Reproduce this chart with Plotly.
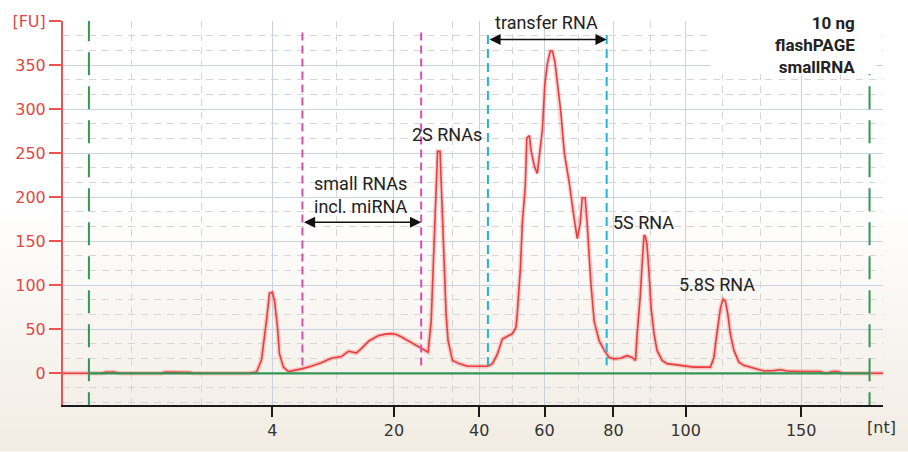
import plotly.graph_objects as go

# Electropherogram trace: migration time (s) vs fluorescence (FU)
time_s = [
    18.00, 20.37, 20.62, 21.10, 21.47, 24.02, 24.20, 25.24, 25.73, 25.97,
    29.31, 29.80, 30.10, 30.41, 30.59, 30.77, 30.90, 31.08, 31.20, 31.44,
    31.75, 32.54, 33.15, 33.75, 34.36, 34.97, 35.40, 35.70, 35.88, 36.19,
    36.67, 37.22, 37.65, 38.01, 38.32, 38.62, 39.23, 39.84, 40.14, 40.26,
    40.45, 40.57, 40.69, 40.84, 40.99, 41.05, 41.18, 41.24, 41.36, 41.48,
    41.75, 42.15, 42.67, 43.88, 44.19, 44.49, 44.79, 45.10, 45.40, 45.62,
    45.71, 45.89, 46.01, 46.19, 46.28, 46.44, 46.53, 46.74, 46.92, 47.04,
    47.23, 47.38, 47.53, 47.71, 47.84, 47.99, 48.14, 48.35, 48.57, 48.87,
    49.17, 49.36, 49.54, 49.66, 49.84, 49.96, 50.18, 50.39, 50.69, 51.00,
    51.30, 51.61, 52.00, 52.40, 52.70, 52.91, 53.01, 53.19, 53.31, 53.43,
    53.52, 53.61, 53.74, 53.86, 54.04, 54.22, 54.53, 54.83, 55.65, 56.44,
    57.48, 57.69, 57.87, 58.09, 58.24, 58.39, 58.54, 58.69, 58.91, 59.21,
    59.51, 60.12, 60.73, 61.34, 61.73, 62.13, 62.95, 64.17, 64.53, 64.96,
    65.26, 65.51, 68.00,
]
fluor = [
    0, 0, 1.5, 1.5, 0, 0, 1.5, 1.5, 1, 0,
    0, 1.5, 15, 60, 91, 92, 82, 52, 22, 7,
    2, 5, 8, 12, 17, 19, 25, 24, 23, 28,
    37, 42.6, 44.5, 45, 44, 41.5, 35, 28, 25, 24,
    59, 119, 190, 252, 252, 224, 164, 115, 67, 37,
    14.6, 11, 8, 8, 11, 22, 39, 42, 45, 52,
    70, 119, 171, 213, 267, 270, 254, 235, 227, 246,
    276, 328, 351, 366, 366, 354, 328, 298, 250, 216,
    175, 153, 171, 199, 199, 171, 104, 59, 37, 26,
    18, 16.4, 17, 20, 18, 14.6, 45, 85, 123, 157,
    155, 146, 112, 74, 45, 26, 14.6, 11, 9, 7,
    7, 18, 45, 74, 84, 82, 67, 45, 26, 12.7,
    9, 5.6, 2.6, 3, 4, 2.6, 2, 2, 0, 2,
    2, 0, 0,
]

# Ladder sizes (nt) and the migration times they correspond to
ladder_nt = ["4", "20", "40", "60", "80", "100", "150"]
ladder_time = [30.77, 38.18, 43.38, 47.36, 51.56, 55.97, 63.01]
minor_time = [22.20, 26.45, 34.67, 41.78, 45.43, 49.45, 53.83, 58.21, 60.52, 65.38]

fu_ticks = [0, 50, 100, 150, 200, 250, 300, 350, 400]
fu_labels = ["0", "50", "100", "150", "200", "250", "300", "350", "[FU]"]

# Lower / upper alignment markers and size windows
marker_time = [19.58, 67.18]
small_rna_window = [32.60, 39.84]
trna_window = [43.91, 51.15]

# Peak annotations
peak_labels = ["2S RNAs", "5S RNA", "5.8S RNA"]
peak_label_time = [41.40, 53.40, 57.90]
peak_label_fu = [271, 171, 101]

X_RANGE = [18, 68]
Y_RANGE = [-36, 400]
W, H = 908, 452
M = dict(l=61, r=25, t=16, b=47)

RED = "rgb(232,62,62)"
GREEN = "rgb(52,150,86)"
MAGENTA = "rgb(214,78,176)"
CYAN = "rgb(28,182,218)"
TXT = "#222222"

fig = go.Figure()

# soft halo under the trace
fig.add_trace(go.Scatter(x=time_s, y=fluor, mode="lines",
                         line=dict(color="rgba(240,90,90,0.28)", width=4.5),
                         hoverinfo="skip", showlegend=False))
fig.add_trace(go.Scatter(x=time_s, y=fluor, mode="lines",
                         line=dict(color=RED, width=1.6),
                         showlegend=False))

shapes = []

# warm vertical gradient behind the chart
plot_h = H - M["t"] - M["b"]
def py_to_paper(py):
    return (H - M["b"] - py) / plot_h

top_px, bot_px = 200, H
n_bands = 42
c_end = (242, 236, 227)
for i in range(n_bands):
    p0 = top_px + (bot_px - top_px) * i / n_bands
    p1 = top_px + (bot_px - top_px) * (i + 1) / n_bands
    f = (i + 0.5) / n_bands
    col = tuple(round(255 + (c - 255) * f) for c in c_end)
    shapes.append(dict(type="rect", xref="paper", yref="paper",
                       x0=-0.1, x1=1.1, y0=py_to_paper(p1), y1=py_to_paper(p0) + 0.002,
                       fillcolor="rgb(%d,%d,%d)" % col, line=dict(width=0),
                       layer="below"))

# green baseline between the markers
shapes.append(dict(type="line", xref="x", yref="y",
                   x0=marker_time[0], x1=marker_time[1], y0=0, y1=0,
                   line=dict(color=GREEN, width=2.2)))
# marker lines
for t in marker_time:
    shapes.append(dict(type="line", xref="x", yref="y",
                       x0=t, x1=t, y0=Y_RANGE[1] + 3, y1=Y_RANGE[0],
                       line=dict(color=GREEN, width=2, dash="23px,11px")))
# small RNA window
for t in small_rna_window:
    shapes.append(dict(type="line", xref="x", yref="y",
                       x0=t, x1=t, y0=387, y1=5,
                       line=dict(color=MAGENTA, width=2, dash="8px,5px")))
# tRNA window
for t in trna_window:
    shapes.append(dict(type="line", xref="x", yref="y",
                       x0=t, x1=t, y0=384, y1=9,
                       line=dict(color=CYAN, width=2, dash="9px,5px")))

# white box behind the sample description
shapes.append(dict(type="rect", xref="x", yref="paper",
                   x0=57.50, x1=67.60, y0=py_to_paper(70), y1=1.1,
                   fillcolor="white", line=dict(width=0), layer="above"))

annotations = []
label_font = dict(family="Roboto", size=18, color=TXT)

# double-headed range arrows
for win, fu in ((small_rna_window, 171.5), (trna_window, 379)):
    annotations.append(dict(x=win[1], y=fu, ax=win[0], ay=fu,
                            xref="x", yref="y", axref="x", ayref="y",
                            text="", showarrow=True, arrowside="end+start",
                            arrowhead=2, arrowsize=1.4, arrowwidth=1.6,
                            arrowcolor="#111111", standoff=0, startstandoff=0))

annotations.append(dict(x=36.19, y=202, xref="x", yref="y",
                        text="small RNAs<br>incl. miRNA", showarrow=False,
                        font=label_font, align="center"))
annotations.append(dict(x=47.50, y=398, xref="x", yref="y",
                        text="transfer RNA", showarrow=False, font=label_font))
for lab, t, fu in zip(peak_labels, peak_label_time, peak_label_fu):
    annotations.append(dict(x=t, y=fu, xref="x", yref="y", text=lab,
                            showarrow=False, font=label_font))

annotations.append(dict(x=66.40, y=373, xref="x", yref="y",
                        text="<b>10 ng</b><br><b>flashPAGE</b><br><b>smallRNA</b>",
                        showarrow=False, xanchor="right", yanchor="middle",
                        align="right",
                        font=dict(family="Roboto", size=17, color=TXT)))

# x-axis unit label
annotations.append(dict(x=1.0, xref="paper", y=py_to_paper(428), yref="paper",
                        text="[nt]", showarrow=False, xanchor="center",
                        yanchor="middle", xshift=-2,
                        font=dict(family="DejaVu Sans", size=16, color="#333333")))

fig.update_layout(
    width=W, height=H, autosize=False, margin=M,
    paper_bgcolor="white", plot_bgcolor="rgba(0,0,0,0)",
    shapes=shapes, annotations=annotations, showlegend=False,
    xaxis=dict(range=X_RANGE, tickmode="array", tickvals=ladder_time,
               ticktext=ladder_nt, showgrid=True, gridcolor="rgb(200,210,224)",
               gridwidth=1, zeroline=False, showline=True, linecolor="#1a1a1a",
               linewidth=1.5, ticks="outside", ticklen=10, tickwidth=1.5,
               tickcolor="#1a1a1a",
               tickfont=dict(family="DejaVu Sans", size=16, color="#333333"),
               minor=dict(tickmode="array", tickvals=minor_time, showgrid=True,
                          gridcolor="rgb(214,214,214)", griddash="7px,6px",
                          ticks="")),
    yaxis=dict(range=Y_RANGE, tickmode="array", tickvals=fu_ticks,
               ticktext=fu_labels, showgrid=True, gridcolor="rgb(200,210,224)",
               gridwidth=1, zeroline=False, showline=True,
               linecolor="rgb(236,84,84)", linewidth=2, ticks="outside",
               ticklen=12, tickwidth=2, tickcolor="rgb(236,84,84)",
               tickfont=dict(family="DejaVu Sans", size=16, color="rgb(226,70,70)"),
               minor=dict(tickmode="linear", tick0=0, dtick=50 / 3, showgrid=True,
                          gridcolor="rgb(214,214,214)", griddash="7px,6px",
                          ticks="")),
)

fig.write_html("out.html")
